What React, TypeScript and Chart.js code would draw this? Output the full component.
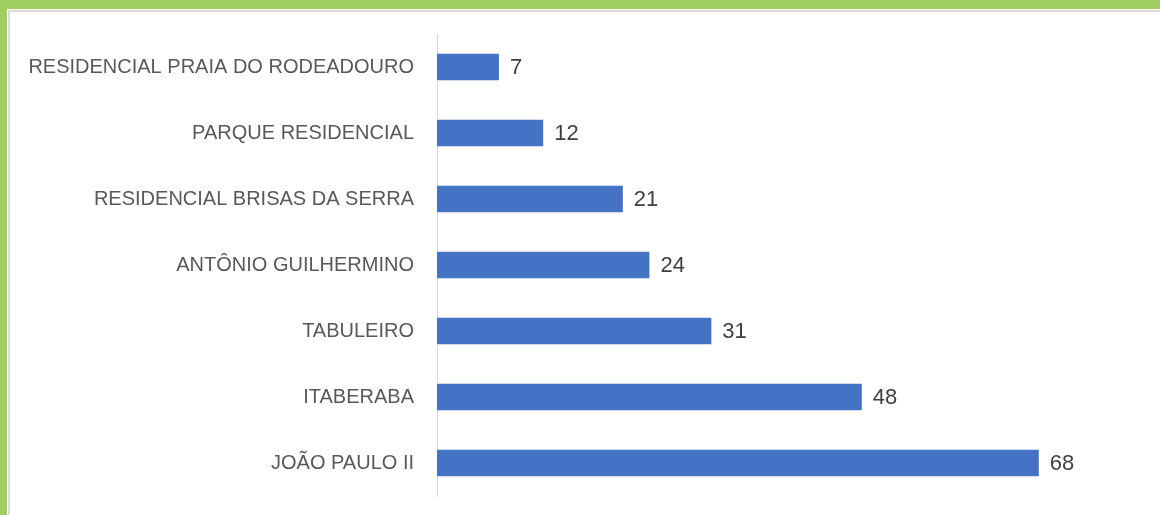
import React, { useEffect, useRef } from "react";
import { Chart, registerables } from "chart.js";

Chart.register(...registerables);

const categories = [
  "RESIDENCIAL PRAIA DO RODEADOURO",
  "PARQUE RESIDENCIAL",
  "RESIDENCIAL BRISAS DA SERRA",
  "ANTÔNIO GUILHERMINO",
  "TABULEIRO",
  "ITABERABA",
  "JOÃO PAULO II",
];
const values = [7, 12, 21, 24, 31, 48, 68];

const FONT = "'Liberation Sans', Arial, sans-serif";

const labelPlugin = {
  id: "valueLabels",
  afterDatasetsDraw(chart: any) {
    const ctx = chart.ctx;
    const meta = chart.getDatasetMeta(0);
    ctx.save();
    ctx.fillStyle = "#404040";
    ctx.font = `22px ${FONT}`;
    ctx.textAlign = "left";
    ctx.textBaseline = "middle";
    meta.data.forEach((el: any, i: number) => {
      ctx.fillText(String(values[i]), el.x + 11, el.y + 1);
    });
    ctx.restore();
  },
};

export default function App() {
  const ref = useRef<HTMLCanvasElement | null>(null);
  useEffect(() => {
    if (!ref.current) return;
    const chart = new Chart(ref.current, {
      type: "bar",
      data: {
        labels: categories,
        datasets: [
          {
            data: values,
            backgroundColor: "#4472C4",
            categoryPercentage: 1,
            barPercentage: 0.4,
          },
        ],
      },
      options: {
        indexAxis: "y",
        animation: false,
        responsive: false,
        maintainAspectRatio: false,
        layout: { padding: { top: 34, bottom: 19, left: 0, right: 15 } },
        plugins: { legend: { display: false }, tooltip: { enabled: false } },
        scales: {
          x: {
            display: false,
            min: 0,
            max: 80,
          },
          y: {
            grid: { display: false },
            border: { display: true, color: "#d9d9d9", width: 1 },
            ticks: {
              color: "#595959",
              font: { size: 20, family: FONT },
              padding: 15,
            },
            afterFit(scale: any) {
              scale.width = 437;
              scale.paddingTop = 0;
              scale.paddingBottom = 0;
            },
          },
        },
      },
      plugins: [labelPlugin],
    });
    return () => chart.destroy();
  }, []);
  return (
    <div style={{ position: "absolute", left: 0, top: 0, width: 1160, height: 515, background: "#fff", overflow: "hidden" }}>
      <canvas ref={ref} width={1160} height={515} style={{ position: "absolute", left: 0, top: 0 }} />
      <div
        style={{
          position: "absolute",
          left: 0,
          top: 0,
          width: 1160,
          height: 515,
          boxSizing: "border-box",
          borderTop: "9px solid #a0cd60",
          borderLeft: "7px solid #a0cd60",
          pointerEvents: "none",
        }}
      >
        <div
          style={{
            position: "absolute",
            left: 1,
            top: 1,
            right: 0,
            bottom: 0,
            borderTop: "2px solid #dcdcdc",
            borderLeft: "2px solid #dcdcdc",
          }}
        />
      </div>
    </div>
  );
}
